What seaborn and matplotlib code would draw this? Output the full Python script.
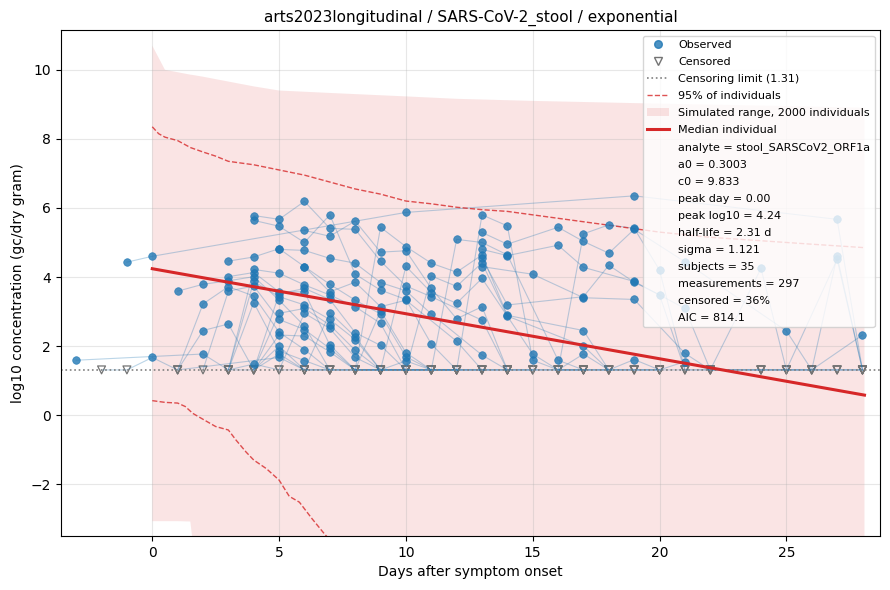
import matplotlib
matplotlib.use("Agg")
import matplotlib.pyplot as plt
from matplotlib.lines import Line2D
from matplotlib.patches import Patch
import pandas as pd
import seaborn as sns

LOD = 1.31  # censoring limit, log10 gc/dry gram

# per-subject measurements: (day, log10 value); None = censored (< LOD)
subjects = {
    "A": [(1, 3.59), (2, 3.79), (3, 3.89), (4, 4.01), (5, 3.33), (6, 2.58), (7, None), (8, None), (10, None), (12, None)],
    "B": [(1, None), (2, 3.22), (3, 3.72), (4, 3.45), (5, 2.40), (6, 1.90), (7, None), (8, None), (9, None)],
    "C": [(1, None), (2, 2.45), (3, 2.64), (4, None), (5, 2.00), (6, None), (7, None)],
    "D": [(-3, 1.59), (2, 1.77), (3, None), (4, 1.48), (5, None), (6, None)],
    "E": [(-1, 4.43), (0, 4.60), (10, 5.87), (19, 6.35), (27, 5.67), (28, None)],
    "F": [(-2, None), (-1, None), (0, 1.67), (1, None), (5, 1.67), (6, None), (7, None)],
    "G": [(3, 4.46), (4, 4.58), (5, 4.82), (6, 4.30), (7, 3.79), (8, 3.33), (9, 2.93), (10, 1.69), (11, None), (12, None), (14, None)],
    "H": [(3, 4.01), (4, 4.13), (5, 3.57), (6, 3.57), (7, 2.03), (8, None), (9, None), (10, None)],
    "I": [(2, None), (3, 3.59), (4, 3.74), (5, 2.77), (6, 2.48), (7, 1.93), (8, None), (9, None), (11, None)],
    "J": [(4, 5.78), (5, 5.67), (6, 6.19), (7, 5.41), (8, 5.38), (9, 4.46), (10, 3.74), (11, 3.43), (13, 2.75), (14, None), (15, None), (16, None), (18, None)],
    "K": [(4, 5.64), (5, 5.47), (6, 5.00), (7, 5.80), (8, 4.08), (9, 3.62), (10, 3.35), (11, 2.06), (12, None), (13, None), (14, None)],
    "L": [(3, None), (4, 4.22), (5, 4.11), (6, 3.77), (7, 3.48), (8, 3.14), (9, 2.66), (10, None), (11, None), (12, None)],
    "M": [(3, None), (4, 3.87), (5, 3.43), (6, 3.19), (7, 2.77), (8, 2.19), (9, None), (10, None), (11, None)],
    "N": [(3, None), (4, 3.26), (5, 1.86), (6, 1.58), (7, None), (8, None), (9, None)],
    "O": [(5, 4.80), (6, 4.77), (7, 4.54), (8, 4.40), (9, 3.84), (10, 3.60), (11, 2.93), (13, 1.74), (14, None), (15, None), (17, None)],
    "P": [(4, None), (5, 3.51), (6, 3.67), (7, 3.35), (8, 2.39), (9, 2.02), (10, None), (11, None), (13, None)],
    "Q": [(4, None), (5, 2.95), (6, 3.09), (7, 2.61), (8, 1.88), (9, None), (10, None), (12, None)],
    "R": [(4, None), (5, 2.32), (6, 2.29), (7, 1.83), (8, None), (9, None), (10, None)],
    "S": [(3, None), (4, None), (5, 1.77), (6, None), (7, None), (8, None), (9, None), (10, None)],
    "T": [(6, 5.35), (7, 5.18), (8, 5.62), (9, 4.72), (10, 4.76), (11, 3.67), (12, 2.79), (13, 3.14), (14, None), (15, None), (16, None), (17, None)],
    "U": [(6, 4.30), (7, 3.57), (8, 3.85), (9, 3.14), (10, 3.33), (12, 2.14), (13, None), (14, None), (15, None)],
    "V": [(5, None), (6, 2.95), (7, 2.51), (8, 1.67), (9, None), (10, None), (11, None), (12, None)],
    "W": [(6, None), (7, 2.97), (8, 2.27), (9, None), (10, 1.57), (11, None), (12, None), (13, None)],
    "X": [(8, None), (9, 5.44), (10, 4.88), (11, 4.40), (12, 4.14), (13, 4.64), (14, 2.89), (17, 2.45), (18, None), (19, None), (20, None)],
    "Y": [(8, None), (9, 3.02), (10, 1.81), (11, None), (12, None), (13, None), (14, None)],
    "Z": [(9, None), (10, 4.31), (11, 3.55), (12, 3.24), (13, 3.96), (15, 1.77), (16, None), (17, None), (18, None)],
    "a": [(10, None), (11, 4.03), (12, 3.73), (13, 4.41), (14, 2.87), (17, 2.00), (18, None), (19, None), (20, None), (21, None)],
    "b": [(11, None), (12, 5.09), (13, 5.00), (14, 4.64), (16, 1.59), (17, None), (18, None), (19, None), (20, None)],
    "c": [(12, None), (13, 5.80), (14, 5.48), (15, 1.59), (16, None), (17, None), (18, None), (19, None), (20, None)],
    "d": [(13, 5.29), (14, 4.95), (16, 5.44), (17, 5.03), (18, 4.69), (19, 5.38), (21, 4.44), (25, 2.44), (26, None), (27, None), (28, None)],
    "e": [(13, 4.80), (14, 4.62), (16, 4.92), (17, 4.28), (19, 3.87), (21, 3.09), (22, None), (24, None), (26, None), (28, 2.32)],
    "f": [(13, 4.54), (14, 3.19), (17, 3.43), (18, 4.34), (19, 3.85), (20, 3.48), (21, None), (22, None), (24, None), (25, None), (27, 4.51), (28, None)],
    "g": [(13, 4.30), (15, 4.08), (17, 3.40), (19, 3.35), (21, 1.79), (22, None), (24, None), (25, None), (26, None), (27, None), (28, None)],
    "h": [(16, None), (17, 5.25), (18, 5.51), (19, 5.41), (20, 4.20), (21, None), (22, None), (24, 4.25), (25, None), (26, None), (27, 4.61), (28, None)],
    "i": [(16, None), (17, 1.77), (18, None), (19, 1.61), (20, None), (21, 1.55), (22, None), (24, None), (25, None), (26, None), (27, None), (28, None)],
}

# simulated range (2000 individuals)
sim_days = [0, 0.5, 1, 1.5, 1.6, 2, 3, 4, 5, 7, 10, 12, 15, 20, 25, 28.08]
sim_upper = [10.7, 10.0, 9.93, 9.86, 9.85, 9.8, 9.66, 9.52, 9.4, 9.33, 9.23, 9.16, 9.1, 9.02, 8.95, 8.9]
sim_lower = [-3.07, -3.07, -3.07, -3.08, -3.7, -4.0, -5.0, -6.0, -7.0, -8.0, -9.0, -10.0, -11.0, -12.0, -13.0, -14.0]

# 95% of individuals
hi_days = [0, 0.25, 0.5, 1, 1.5, 2, 2.5, 3, 4, 5, 6, 7, 8, 9, 10, 11, 12, 13, 14, 15, 16, 17, 18, 19, 20, 22, 24, 26, 28.08]
hi_vals = [8.35, 8.15, 8.05, 7.95, 7.75, 7.62, 7.5, 7.35, 7.25, 7.1, 6.95, 6.75, 6.55, 6.4, 6.2, 6.12, 6.02, 5.95, 5.9, 5.8, 5.7, 5.6, 5.5, 5.4, 5.3, 5.15, 5.05, 4.95, 4.85]
lo_days = [0, 0.5, 1, 1.3, 1.6, 2, 2.5, 3, 3.3, 3.7, 4, 4.5, 5, 5.4, 5.8, 6.3, 6.8, 7.5, 8, 10]
lo_vals = [0.42, 0.37, 0.35, 0.25, 0.05, -0.12, -0.33, -0.43, -0.72, -1.07, -1.3, -1.55, -1.88, -2.35, -2.52, -3.0, -3.45, -4.0, -4.5, -6.0]

# median individual
median_days = [0, 28.08]
median_vals = [4.24, 0.58]

stats = [
    "analyte = stool_SARSCoV2_ORF1a",
    "a0 = 0.3003",
    "c0 = 9.833",
    "peak day = 0.00",
    "peak log10 = 4.24",
    "half-life = 2.31 d",
    "sigma = 1.121",
    "subjects = 35",
    "measurements = 297",
    "censored = 36%",
    "AIC = 814.1",
]

rows = []
for sid, meas in subjects.items():
    for day, val in meas:
        rows.append({"subject": sid, "day": day,
                     "y": LOD if val is None else val,
                     "censored": val is None})
df = pd.DataFrame(rows)
obs = df[~df["censored"]]
cens = df[df["censored"]]

fig, ax = plt.subplots(figsize=(8.9, 5.9), dpi=100)

ax.fill_between(sim_days, sim_lower, sim_upper, color="tab:red", alpha=0.12, lw=0)
sns.lineplot(data=df, x="day", y="y", units="subject", estimator=None,
             color="C0", alpha=0.3, lw=0.8, legend=False, ax=ax)
ax.axhline(LOD, color="gray", ls=":", lw=1.2)
sns.scatterplot(data=cens, x="day", y="y", marker="v", s=32,
                facecolor="none", edgecolor="0.45", linewidth=0.9, ax=ax)
sns.scatterplot(data=obs, x="day", y="y", color="C0", s=30, alpha=0.8,
                edgecolor="C0", linewidth=0.5, ax=ax, zorder=3)
sns.lineplot(x=hi_days, y=hi_vals, estimator=None, color="tab:red", alpha=0.8,
             ls="--", lw=1, ax=ax)
sns.lineplot(x=lo_days, y=lo_vals, estimator=None, color="tab:red", alpha=0.8,
             ls="--", lw=1, ax=ax)
sns.lineplot(x=median_days, y=median_vals, estimator=None, color="tab:red",
             lw=2.2, ax=ax, zorder=4)

ax.set_xlim(-3.6, 28.7)
ax.set_ylim(-3.5, 11.15)
ax.grid(True, alpha=0.3)
ax.set_title("arts2023longitudinal / SARS-CoV-2_stool / exponential", fontsize=11)
ax.set_xlabel("Days after symptom onset")
ax.set_ylabel("log10 concentration (gc/dry gram)")

handles = [
    Line2D([], [], marker="o", ls="", color="C0", alpha=0.8, markersize=5.5),
    Line2D([], [], marker="v", ls="", mfc="none", mec="0.45", markersize=6),
    Line2D([], [], color="gray", ls=":", lw=1.2),
    Line2D([], [], color="tab:red", alpha=0.8, ls="--", lw=1),
    Patch(facecolor="tab:red", alpha=0.12),
    Line2D([], [], color="tab:red", lw=2.2),
] + [Line2D([], [], ls="", marker="") for _ in stats]
labels = ["Observed", "Censored", f"Censoring limit ({LOD})", "95% of individuals",
          "Simulated range, 2000 individuals", "Median individual"] + stats
ax.legend(handles, labels, loc="upper right", fontsize=8, labelspacing=0.63)

fig.subplots_adjust(left=0.0685, right=0.989, top=0.949, bottom=0.0915)
fig.savefig("out.png", dpi=100)
